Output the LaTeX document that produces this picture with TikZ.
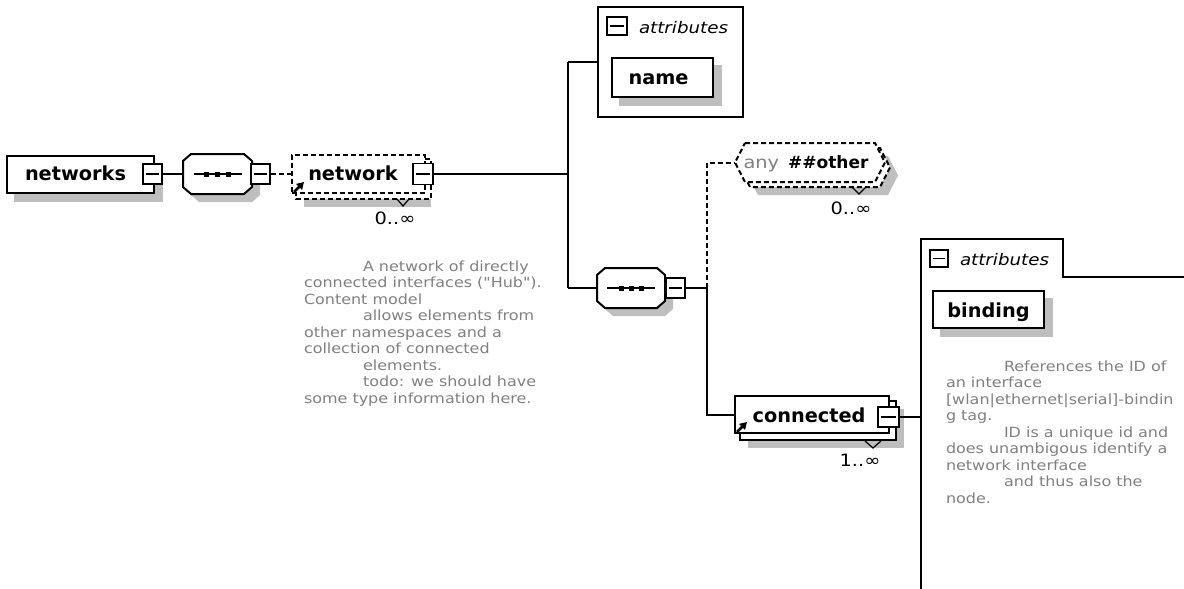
\documentclass[tikz,border=0pt]{standalone}
\usepackage{fontspec}
\setmainfont{DejaVu Sans}[Ligatures=TeXOff]
\newfontfamily\notefont{DejaVu Sans}[Ligatures=TeXOff,FakeStretch=1.14]
\usetikzlibrary{arrows.meta,calc}
\pgfdeclarelayer{shadowlayer}
\pgfdeclarelayer{copylayer}
\pgfsetlayers{shadowlayer,copylayer,main}
\definecolor{shadowgray}{RGB}{190,190,190}
\definecolor{notegray}{RGB}{128,128,128}

% octagon (sequence compositor) around a node, shifted by (#2,#3)
\newcommand\octpath[3]{([shift={(8+#2,#3)}]#1.north west) -- ([shift={(-8+#2,#3)}]#1.north east) -- ([shift={(#2,7+#3)}]#1.north east) -- ([shift={(#2,-7+#3)}]#1.south east) -- ([shift={(-8+#2,#3)}]#1.south east) -- ([shift={(8+#2,#3)}]#1.south west) -- ([shift={(#2,-7+#3)}]#1.south west) -- ([shift={(#2,7+#3)}]#1.north west) -- cycle}
% hexagon (any wildcard) around a node, shifted by (#2,#3)
\newcommand\hexpath[3]{([shift={(10+#2,#3)}]#1.north west) -- ([shift={(-10+#2,#3)}]#1.north east) -- ([shift={(#2,#3)}]#1.east) -- ([shift={(-10+#2,#3)}]#1.south east) -- ([shift={(10+#2,#3)}]#1.south west) -- ([shift={(#2,#3)}]#1.west) -- cycle}

\tikzset{
  heavy/.style={line width=2pt},
  elem/.style={draw, fill=white, heavy, inner sep=0pt, text height=13.5pt, text depth=0pt,
    font=\fontsize{19.3}{23}\selectfont\bfseries},
  holder/.style={inner sep=0pt, outer sep=0pt, draw=none},
  tog/.style={draw, fill=white, inner sep=0pt, line width=1.5pt,
    path picture={\draw[line width=1.5pt] ([xshift=3pt]path picture bounding box.west) -- ([xshift=-3pt]path picture bounding box.east);}},
  dashy/.style={dash pattern=on 5pt off 3pt},
  notetext/.style={anchor=north west, inner sep=0pt, align=left, text=notegray,
    font=\notefont\fontsize{14}{16.5}\selectfont},
  mult/.style={inner sep=0pt, font=\notefont\fontsize{17}{20}\selectfont},
  attrlabel/.style={anchor=base west, inner sep=0pt, font=\notefont\itshape\fontsize{16}{19}\selectfont},
  refarrow/.style={line width=2.6pt, -{Triangle[length=7pt,width=8pt]}},
  vmark/.style={line width=1.2pt},
  seqline/.style={line width=1.6pt},
  dropshade/.style={fill=shadowgray, draw=none},
}

\begin{document}
\begin{tikzpicture}[x=1pt,y=-1pt]
\useasboundingbox (0,0) rectangle (1184,589);
\begin{pgfonlayer}{shadowlayer}
  \fill[white] (0,0) rectangle (1184,589);
\end{pgfonlayer}
\begin{scope}[heavy]

% root element
\node[elem, minimum width=147pt, minimum height=37pt] (networks) at (80.5,174) {networks\hspace*{10pt}};
\node[tog, minimum width=19pt, minimum height=20pt] (networks-x) at (152.5,174) {};

% first sequence
\node[holder, minimum width=69pt, minimum height=40pt] (seq1) at (217.5,174) {};
\draw[heavy, fill=white] \octpath{seq1}{0}{0};
\draw[seqline] ([xshift=-24pt]seq1.center) -- ([xshift=24pt]seq1.center);
\foreach \d in {-11,0,11}
  \fill ([xshift=\d pt]seq1.center) +(-2.5pt,-2.5pt) rectangle +(2.5pt,2.5pt);
\node[tog, minimum width=19pt, minimum height=20pt] (seq1-x) at (260.5,174) {};

% network (optional, repeated)
\node[elem, dashy, minimum width=133pt, minimum height=38pt] (network) at (358.5,174) {network\hspace*{11pt}};
\node[tog, minimum width=20pt, minimum height=21pt] (network-x) at (423,174) {};
\draw[refarrow] ([shift={(3,-2)}]network.south west) -- ([shift={(13,-12)}]network.south west);
\draw[vmark] ([shift={(-29,5)}]network.south east) -- ([shift={(-23,12)}]network.south east) -- ([shift={(-17,5)}]network.south east);
\node[mult] (network-m) at (395,218) {0..∞};

% attributes of network
\node[draw, heavy, inner sep=0pt, minimum width=145pt, minimum height=110pt] (attrA) at (670.5,62) {};
\node[tog, minimum width=20pt, minimum height=18pt] (attrA-x) at (617,26) {};
\node[attrlabel] (attrA-t) at (638,33) {attributes};
\node[elem, minimum width=101pt, minimum height=39pt, text height=14pt] (name) at (662.5,77.5) {name\hspace*{8pt}};

% second sequence
\node[holder, minimum width=68pt, minimum height=40pt] (seq2) at (631,288) {};
\draw[heavy, fill=white] \octpath{seq2}{0}{0};
\draw[seqline] ([xshift=-24pt]seq2.center) -- ([xshift=24pt]seq2.center);
\foreach \d in {-10,0,10}
  \fill ([xshift=\d pt]seq2.center) +(-2.5pt,-2.5pt) rectangle +(2.5pt,2.5pt);
\node[tog, minimum width=19pt, minimum height=20pt] (seq2-x) at (675.5,288) {};

% any ##other wildcard
\node[holder, minimum width=150pt, minimum height=39pt] (anyo) at (810,162.5) {};
\draw[heavy, dashy, fill=white] \hexpath{anyo}{0}{0};
\node[inner sep=0pt, text height=12pt, text depth=0pt] (anyo-t) at (806,162.5)
  {\notefont\fontsize{17}{20}\selectfont\color{notegray}any\hspace{9pt}\rmfamily\bfseries\color{black}\#\#other};
\draw[vmark] ([shift={(-33,5)}]anyo.south east) -- ([shift={(-26,12)}]anyo.south east) -- ([shift={(-19,5)}]anyo.south east);
\node[mult] (anyo-m) at (851,208) {0..∞};

% connected (repeated)
\node[elem, minimum width=154pt, minimum height=37pt, text height=15pt] (connected) at (812,414.5) {connected\hspace*{6pt}};
\node[tog, minimum width=21pt, minimum height=20pt] (connected-x) at (888.5,417) {};
\draw[refarrow] ([shift={(3,-2)}]connected.south west) -- ([shift={(13,-12)}]connected.south west);
\draw[vmark] ([shift={(-25,7)}]connected.south east) -- ([shift={(-17,14)}]connected.south east) -- ([shift={(-9,7)}]connected.south east);
\node[mult] (connected-m) at (860,460) {1..∞};

% attributes of connected
\node[holder, minimum width=142pt, minimum height=38pt] (attrB) at (992,258) {};
\node[tog, minimum width=18pt, minimum height=17pt] (attrB-x) at (939,258.5) {};
\node[attrlabel] (attrB-t) at (959,265) {attributes};
\node[elem, minimum width=111pt, minimum height=37pt, text height=15pt] (binding) at (988.5,309.5) {binding};
\coordinate (attrB-foot) at (921,589);
\coordinate (attrB-end) at (1184,277);
\draw[heavy] (attrB-foot) -- (attrB.north west) -- (attrB.north east) -- (attrB.south east) -- (attrB-end);

% annotations
\node[notetext] (netnote) at (303,259.5)
  {\hspace*{59pt}A network of directly\\connected interfaces ("Hub").\\Content model\\\hspace*{59pt}allows elements from\\other namespaces and a\\collection of connected\\\hspace*{59pt}elements.\\\hspace*{59pt}todo: we should have\\some type information here.};
\node[notetext] (bindnote) at (945,359.5)
  {\hspace*{58pt}References the ID of\\an interface\\{[}wlan|ethernet|serial{]}-bindin\\g tag.\\\hspace*{58pt}ID is a unique id and\\does unambigous identify a\\network interface\\\hspace*{58pt}and thus also the\\node.};

% connectors
\coordinate (j1) at (568,174);
\coordinate (j1a) at (568,62);
\coordinate (j1b) at (568,288);
\coordinate (j2) at (707,288);
\coordinate (j2a) at (707,162.5);
\coordinate (j2b) at (707,414.5);
\draw[heavy] (networks-x) -- (seq1);
\draw[heavy, dashy] (seq1-x) -- (network);
\draw[heavy] (network-x) -- (j1);
\draw[heavy] (j1a) -- (j1b);
\draw[heavy] (j1a) -- (attrA);
\draw[heavy] (j1b) -- (seq2);
\draw[heavy] (seq2-x) -- (j2);
\draw[heavy] (j2) -- (j2b) -- (connected);
\draw[heavy, dashy] (j2) -- (j2a) -- (anyo);
\draw[heavy] (connected-x) -- (connected-x -| attrB-foot);

% back copies of repeated items
\begin{pgfonlayer}{copylayer}
  \draw[heavy, dashy, fill=white] ([shift={(5,5)}]network.north west) rectangle ([shift={(5,5)}]network.south east);
  \draw[heavy, dashy, fill=white] \hexpath{anyo}{5}{5};
  \draw[heavy, fill=white] ([shift={(6,6)}]connected.north west) rectangle ([shift={(6,6)}]connected.south east);
\end{pgfonlayer}

% drop shadows
\begin{pgfonlayer}{shadowlayer}
  \path[dropshade] ([shift={(8,8)}]networks.north west) rectangle ([shift={(8,8)}]networks.south east);
  \path[dropshade] \octpath{seq1}{8}{8};
  \path[dropshade] ([shift={(13,13)}]network.north west) rectangle ([shift={(5,13)}]network.south east);
  \path[dropshade] ([shift={(8,8)}]name.north west) rectangle ([shift={(8,8)}]name.south east);
  \path[dropshade] \hexpath{anyo}{13}{13};
  \path[dropshade] \octpath{seq2}{8}{8};
  \path[dropshade] ([shift={(14,14)}]connected.north west) rectangle ([shift={(14,14)}]connected.south east);
  \path[dropshade] ([shift={(8,8)}]binding.north west) rectangle ([shift={(8,8)}]binding.south east);
\end{pgfonlayer}
\end{scope}
\end{tikzpicture}
\end{document}
